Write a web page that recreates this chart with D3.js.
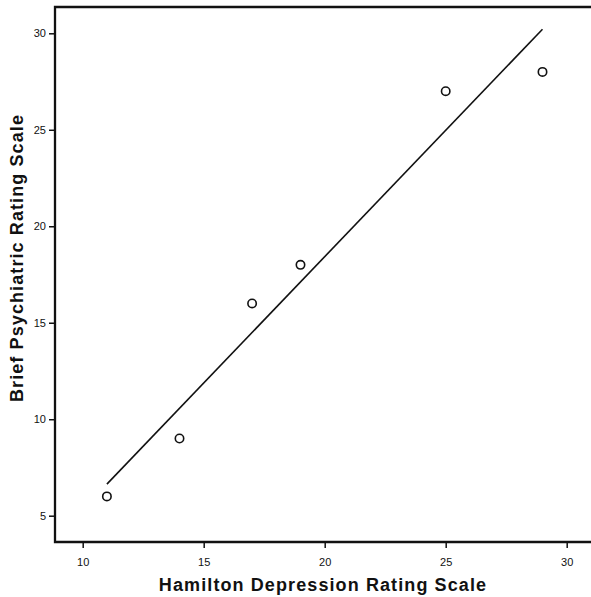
<!DOCTYPE html>
<html>
<head>
<meta charset="utf-8">
<script src="https://d3js.org/d3.v7.min.js"></script>
<style>
  body { margin: 0; background: #fff; }
  text { font-family: "Liberation Sans", Arial, sans-serif; fill: #111; }
</style>
</head>
<body>
<svg id="chart" width="591" height="597"></svg>
<script>
// data
var hamilton = [11, 14, 17, 19, 25, 29]
var bprs = [6, 9, 16, 18, 27, 28]
var xTicks = [10, 15, 20, 25, 30]
var yTicks = [5, 10, 15, 20, 25, 30]

var svg = d3.select("#chart")

// scales (tick positions measured on the reference)
var x = d3.scaleLinear().domain([10, 30]).range([82.7, 566.7])
var y = d3.scaleLinear().domain([5, 30]).range([515.7, 33.3])

var frameL = 55, frameT = 7, frameB = 542, frameR = 591

// frame: left, top and bottom lines
svg.append("path")
  .attr("d", "M" + frameR + "," + frameT + "H" + frameL + "V" + frameB + "H" + frameR)
  .attr("fill", "none")
  .attr("stroke", "#111")
  .attr("stroke-width", 2.3)

// x axis ticks
var xg = svg.append("g").attr("transform", "translate(0," + frameB + ")")
var xAxis = d3.axisBottom(x).tickValues(xTicks).tickSize(6).tickPadding(10)
xg.call(xAxis)
xg.select(".domain").remove()
xg.selectAll("line").attr("stroke", "#111").attr("stroke-width", 1.5)
xg.selectAll("text").style("font-size", "11px").attr("fill", "#111")

// y axis ticks
var yg = svg.append("g").attr("transform", "translate(" + frameL + ",0)")
var yAxis = d3.axisLeft(y).tickValues(yTicks).tickSize(6).tickPadding(3)
yg.call(yAxis)
yg.select(".domain").remove()
yg.selectAll("line").attr("stroke", "#111").attr("stroke-width", 1.5)
yg.selectAll("text").style("font-size", "11px").attr("fill", "#111")

// least squares fit line
var mx = d3.mean(hamilton), my = d3.mean(bprs)
var sxy = d3.sum(hamilton, function(d, i) { return (d - mx) * (bprs[i] - my) })
var sxx = d3.sum(hamilton, function(d) { return (d - mx) * (d - mx) })
var slope = sxy / sxx
var icpt = my - slope * mx
var x0 = d3.min(hamilton), x1 = d3.max(hamilton)

svg.append("line")
  .attr("x1", x(x0)).attr("y1", y(icpt + slope * x0))
  .attr("x2", x(x1)).attr("y2", y(icpt + slope * x1))
  .attr("stroke", "#111")
  .attr("stroke-width", 1.6)

// points
svg.selectAll("circle.pt")
  .data(hamilton)
  .enter()
  .append("circle")
    .attr("class", "pt")
    .attr("cx", function(d) { return x(d) })
    .attr("cy", function(d, i) { return y(bprs[i]) })
    .attr("r", 4.2)
    .attr("fill", "none")
    .attr("stroke", "#111")
    .attr("stroke-width", 1.6)

// axis titles
svg.append("text")
  .attr("x", 323).attr("y", 591)
  .attr("text-anchor", "middle")
  .style("font-size", "18px").style("font-weight", "bold")
  .style("letter-spacing", "1.1px")
  .text("Hamilton Depression Rating Scale")

svg.append("text")
  .attr("transform", "translate(23,258) rotate(-90)")
  .attr("text-anchor", "middle")
  .style("font-size", "18px").style("font-weight", "bold")
  .style("letter-spacing", "1.1px")
  .text("Brief Psychiatric Rating Scale")
</script>
</body>
</html>
